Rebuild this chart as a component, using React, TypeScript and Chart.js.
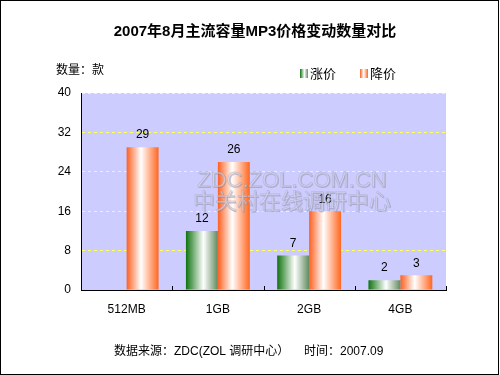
import React, { useEffect, useRef } from 'react';
import { Chart, registerables } from 'chart.js';

Chart.register(...registerables);

const categories = ['512MB', '1GB', '2GB', '4GB'];
const riseValues: (number | null)[] = [null, 12, 7, 2];
const fallValues: number[] = [29, 26, 16, 3];
const yTickValues = [0, 8, 16, 24, 32, 40];
const seriesNames = ['涨价', '降价'];
const titleText = '2007年8月主流容量MP3价格变动数量对比';
const yAxisLabel = '数量：款';
const footerSource = '数据来源：ZDC(ZOL 调研中心）';
const footerTime = '时间：2007.09';
const watermarkLines = ['ZDC.ZOL.COM.CN', '中关村在线调研中心'];

const FONT = '"Liberation Sans", Arial, "Noto Sans CJK SC", sans-serif';

function greenGrad(ctx: CanvasRenderingContext2D, x0: number, x1: number) {
  const g = ctx.createLinearGradient(x0, 0, x1, 0);
  g.addColorStop(0, '#0f720f');
  g.addColorStop(0.55, '#ffffff');
  g.addColorStop(1, '#5f8a5f');
  return g;
}
function orangeGrad(ctx: CanvasRenderingContext2D, x0: number, x1: number) {
  const g = ctx.createLinearGradient(x0, 0, x1, 0);
  g.addColorStop(0, '#ff5f1f');
  g.addColorStop(0.45, '#ffffff');
  g.addColorStop(1, '#ff661f');
  return g;
}

const decorPlugin = {
  id: 'decor',
  beforeDraw(chart: any) {
    const { ctx, chartArea: a } = chart;
    ctx.save();
    ctx.fillStyle = '#ffffff';
    ctx.fillRect(0, 0, chart.width, chart.height);
    ctx.fillStyle = '#ccccff';
    ctx.fillRect(a.left, a.top, a.right - a.left, a.bottom - a.top);
    ctx.restore();
  },
  beforeDatasetsDraw(chart: any) {
    const { ctx } = chart;
    chart.data.datasets.forEach((_: any, di: number) => {
      const meta = chart.getDatasetMeta(di);
      meta.data.forEach((el: any) => {
        const x0 = el.x - el.width / 2;
        const x1 = el.x + el.width / 2;
        const bg = di === 0 ? greenGrad(ctx, x0, x1) : orangeGrad(ctx, x0, x1);
        el.options = { ...el.options, backgroundColor: bg };
      });
    });
  },
  afterDatasetsDraw(chart: any) {
    const { ctx, chartArea: a } = chart;
    ctx.save();
    // value labels
    ctx.fillStyle = '#000';
    ctx.font = `12px ${FONT}`;
    ctx.textAlign = 'center';
    ctx.textBaseline = 'bottom';
    chart.data.datasets.forEach((ds: any, di: number) => {
      const meta = chart.getDatasetMeta(di);
      meta.data.forEach((el: any, i: number) => {
        const v = ds.data[i];
        if (v === null || v === undefined) return;
        ctx.fillText(String(v), el.x, el.y - 6);
      });
    });
    // category boundary ticks
    ctx.strokeStyle = '#000';
    ctx.lineWidth = 1;
    const step = (a.right - a.left) / categories.length;
    for (let i = 1; i <= categories.length; i++) {
      const x = Math.round(a.left + step * i) + 0.5;
      ctx.beginPath();
      ctx.moveTo(x, a.bottom);
      ctx.lineTo(x, a.bottom - 4);
      ctx.stroke();
    }
    // watermark
    const cx = 292;
    ctx.textAlign = 'center';
    ctx.textBaseline = 'alphabetic';
    const drawEmboss = (t: string, y: number, font: string) => {
      ctx.font = font;
      ctx.fillStyle = 'rgba(120,120,140,0.3)';
      ctx.fillText(t, cx + 1, y + 1);
      ctx.fillStyle = 'rgba(222,222,240,0.55)';
      ctx.fillText(t, cx, y);
      ctx.strokeStyle = 'rgba(140,140,160,0.35)';
      ctx.lineWidth = 0.8;
      ctx.strokeText(t, cx, y);
    };
    drawEmboss(watermarkLines[0], 187, `22px ${FONT}`);
    drawEmboss(watermarkLines[1], 209, `22px "Noto Sans CJK SC", sans-serif`);
    ctx.restore();
  },
  afterDraw(chart: any) {
    const { ctx } = chart;
    ctx.save();
    // title
    ctx.fillStyle = '#000';
    ctx.font = `bold 15px ${FONT}`;
    ctx.textAlign = 'center';
    ctx.textBaseline = 'middle';
    ctx.fillText(titleText, 255, 32);
    // y label
    ctx.font = `12px ${FONT}`;
    ctx.textAlign = 'left';
    ctx.fillText(yAxisLabel, 56, 71);
    // legend
    const legendX = [300, 360];
    seriesNames.forEach((name, i) => {
      const x = legendX[i];
      ctx.fillStyle = i === 0 ? greenGrad(ctx, x, x + 8) : orangeGrad(ctx, x, x + 8);
      ctx.fillRect(x, 69, 8, 9);
      ctx.fillStyle = '#000';
      ctx.font = `13px ${FONT}`;
      ctx.fillText(name, x + 10, 74);
    });
    // footer
    ctx.font = `12px ${FONT}`;
    ctx.fillText(footerSource, 114, 352);
    ctx.fillText(footerTime, 304, 352);
    // border
    ctx.strokeStyle = '#000';
    ctx.lineWidth = 1;
    ctx.strokeRect(0.5, 0.5, chart.width - 2, chart.height - 1);
    ctx.restore();
  },
};

export default function App() {
  const ref = useRef<HTMLCanvasElement | null>(null);
  useEffect(() => {
    if (!ref.current) return;
    const chart = new Chart(ref.current, {
      type: 'bar',
      data: {
        labels: categories,
        datasets: [
          { label: seriesNames[0], data: riseValues, backgroundColor: '#2a7a2a', borderWidth: 0 },
          { label: seriesNames[1], data: fallValues, backgroundColor: '#ff6633', borderWidth: 0 },
        ],
      },
      options: {
        responsive: false,
        animation: false,
        events: [],
        layout: { padding: { top: 93, right: 54, bottom: 0, left: 0 } },
        plugins: {
          legend: { display: false },
          title: { display: false },
          tooltip: { enabled: false },
        },
        datasets: { bar: { categoryPercentage: 0.7, barPercentage: 1.0 } },
        scales: {
          x: {
            grid: { display: false, drawTicks: false },
            border: { display: true, color: '#000', width: 1 },
            ticks: { color: '#000', font: { size: 12, family: FONT }, padding: 12 },
            afterFit: (s: any) => { s.height = 85; },
          },
          y: {
            min: 0,
            max: 40,
            afterBuildTicks: (s: any) => { s.ticks = yTickValues.map((v) => ({ value: v })); },
            grid: { color: '#ffff66', drawTicks: false, lineWidth: 1 },
            border: { display: true, color: '#000', width: 1, dash: [3, 3] },
            ticks: { color: '#000', font: { size: 12, family: FONT }, padding: 10 },
            afterFit: (s: any) => { s.width = 81; },
          },
        },
      },
      plugins: [decorPlugin],
    } as any);
    return () => chart.destroy();
  }, []);
  return (
    <div style={{ position: 'absolute', left: 0, top: 0, width: 500, height: 375 }}>
      <canvas ref={ref} width={500} height={375} style={{ width: 500, height: 375, display: 'block' }} />
    </div>
  );
}
